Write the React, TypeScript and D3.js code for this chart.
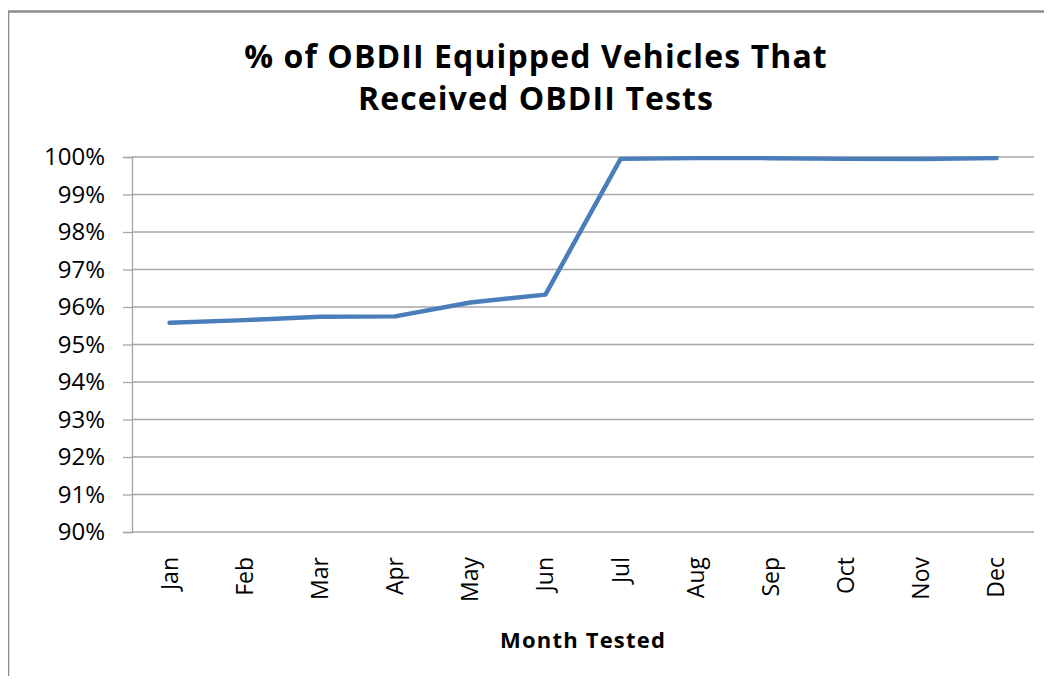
import React, { useEffect, useRef } from "react";
import * as d3 from "d3";

// ---- data ----
const months = ["Jan", "Feb", "Mar", "Apr", "May", "Jun", "Jul", "Aug", "Sep", "Oct", "Nov", "Dec"];
const pctTested = [95.58, 95.65, 95.74, 95.75, 96.12, 96.33, 99.95, 99.97, 99.97, 99.95, 99.95, 99.97];
const yTicks = [90, 91, 92, 93, 94, 95, 96, 97, 98, 99, 100];
const titleLines = ["% of OBDII Equipped Vehicles That", "Received OBDII Tests"];
const xAxisTitle = "Month Tested";

const W = 1052;
const H = 684;
const FONT = "'Open Sans', Lato, sans-serif";

export default function App() {
  const svgRef = useRef<SVGSVGElement>(null);

  useEffect(() => {
    const svg = d3.select(svgRef.current);
    svg.selectAll("*").remove();

    const margin = { top: 157, right: 18, bottom: 152, left: 132 };
    const w = W - margin.left - margin.right;
    const h = H - margin.top - margin.bottom;

    svg.append("rect").attr("width", W).attr("height", H).attr("fill", "#fff");

    // chart frame (only top + left edges visible in the crop)
    svg.append("path")
      .attr("d", `M8,${H} L8,11.5 L${W},11.5`)
      .attr("fill", "none")
      .attr("stroke", "#8c8c8c")
      .attr("stroke-width", 2.5);

    // title
    const title = svg.append("text")
      .attr("text-anchor", "middle")
      .attr("font-family", FONT)
      .attr("font-weight", "bold")
      .attr("font-size", 32)
      .attr("letter-spacing", 1.1)
      .attr("fill", "#000");
    titleLines.forEach((t, i) => {
      title.append("tspan").attr("x", 536).attr("y", 68 + i * 42).text(t);
    });

    const g = svg.append("g").attr("transform", `translate(${margin.left},${margin.top})`);

    const x = d3.scaleBand().domain(months).range([0, w]);
    const y = d3.scaleLinear().domain([90, 100]).range([h, 0]);

    // horizontal gridlines
    g.append("g")
      .selectAll("line")
      .data(yTicks)
      .join("line")
      .attr("x1", 0).attr("x2", w)
      .attr("y1", d => y(d)).attr("y2", d => y(d))
      .attr("stroke", "#a6a6a6")
      .attr("stroke-width", 1.3);

    // y axis
    const yAxis = g.append("g").call(
      d3.axisLeft(y).tickValues(yTicks).tickSize(9).tickPadding(18).tickFormat(d => `${d}%`)
    );
    yAxis.select(".domain").attr("stroke", "#a6a6a6").attr("stroke-width", 1.3);
    yAxis.selectAll(".tick line").attr("stroke", "#a6a6a6").attr("stroke-width", 1.3);
    yAxis.selectAll(".tick text")
      .attr("font-family", FONT)
      .attr("font-size", 24)
      .attr("fill", "#000");

    // x axis labels, rotated
    const xAxis = g.append("g").attr("transform", `translate(0,${h})`)
      .call(d3.axisBottom(x).tickSize(0).tickPadding(0));
    xAxis.select(".domain").remove();
    xAxis.selectAll(".tick text")
      .attr("font-family", FONT)
      .attr("font-size", 23)
      .attr("fill", "#000")
      .attr("text-anchor", "end")
      .attr("dy", null)
      .attr("transform", "translate(8,25) rotate(-90)");

    g.append("text")
      .attr("x", 451)
      .attr("y", h + 116)
      .attr("text-anchor", "middle")
      .attr("font-family", FONT)
      .attr("font-weight", "bold")
      .attr("font-size", 22)
      .attr("letter-spacing", 1.2)
      .text(xAxisTitle);

    // series line
    const line = d3.line<number>()
      .x((_, i) => (x(months[i]) ?? 0) + x.bandwidth() / 2)
      .y(d => y(d));
    g.append("path")
      .datum(pctTested)
      .attr("fill", "none")
      .attr("stroke", "#4a7ebb")
      .attr("stroke-width", 4.5)
      .attr("stroke-linejoin", "round")
      .attr("stroke-linecap", "round")
      .attr("d", line);
  }, []);

  return <svg ref={svgRef} width={W} height={H} style={{ display: "block", margin: -8 }} />;
}
